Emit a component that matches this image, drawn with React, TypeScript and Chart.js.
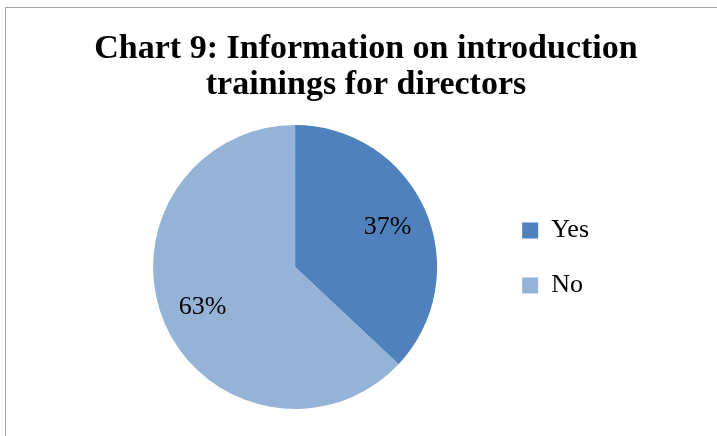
import React, { useEffect, useRef } from "react";
import { Chart, registerables } from "chart.js";

Chart.register(...registerables);

const titleLines = ["Chart 9: Information on introduction", "trainings for directors"];
const categories = ["Yes", "No"];
const values = [37, 63];
const colors = ["#4F81BD", "#95B3D7"];

const titlePlugin = {
  id: "centeredTitle",
  afterDraw(chart: any) {
    const ctx = chart.ctx;
    ctx.save();
    ctx.font = "bold 34px 'Liberation Serif'";
    ctx.fillStyle = "#000";
    ctx.textAlign = "center";
    ctx.textBaseline = "alphabetic";
    titleLines.forEach((line, i) => {
      ctx.fillText(line, chart.width / 2, 50 + i * 36);
    });
    ctx.restore();
  },
};

const legendShift = {
  id: "legendShift",
  afterLayout(chart: any) {
    const lg = chart.legend;
    if (lg) {
      lg.top -= 9;
      lg.bottom -= 9;
    }
  },
};

const pieLabels = {
  id: "pieLabels",
  afterDatasetsDraw(chart: any) {
    const ctx = chart.ctx;
    const meta = chart.getDatasetMeta(0);
    const data = chart.data.datasets[0].data as number[];
    const total = data.reduce((a, b) => a + b, 0);
    ctx.save();
    ctx.font = "26px 'Liberation Serif'";
    ctx.fillStyle = "#000";
    ctx.textAlign = "center";
    ctx.textBaseline = "middle";
    meta.data.forEach((arc: any, i: number) => {
      const p = arc.getProps(["x", "y", "startAngle", "endAngle", "outerRadius"], true);
      const mid = (p.startAngle + p.endAngle) / 2;
      const r = p.outerRadius * 0.71;
      const x = p.x + Math.cos(mid) * r;
      const y = p.y + Math.sin(mid) * r;
      ctx.fillText(Math.round((data[i] / total) * 100) + "%", x, y);
    });
    ctx.restore();
  },
};

export default function App() {
  const ref = useRef<HTMLCanvasElement>(null);
  useEffect(() => {
    if (!ref.current) return;
    const chart = new Chart(ref.current, {
      type: "pie",
      data: {
        labels: categories,
        datasets: [{ data: values, backgroundColor: colors, borderWidth: 0 }],
      },
      options: {
        responsive: false,
        animation: false,
        layout: { padding: { left: 91, right: 127, top: 117, bottom: 27 } },
        plugins: {
          tooltip: { enabled: false },
          title: { display: false },
          legend: {
            position: "right",
            align: "center",
            labels: {
              boxWidth: 16,
              boxHeight: 16,
              padding: 29,
              color: "#000",
              font: { family: "'Liberation Serif'", size: 26 },
            },
          },
        },
      },
      plugins: [pieLabels, titlePlugin, legendShift],
    });
    return () => chart.destroy();
  }, []);
  return (
    <div style={{ position: "fixed", left: 0, top: 0, width: 717, height: 436, overflow: "hidden", background: "#fff" }}>
      <div style={{ position: "absolute", left: 5, top: 7, width: 760, height: 480, border: "1px solid #a6a6a6" }} />
      <canvas ref={ref} width={720} height={428} style={{ position: "absolute", left: 6, top: 8, display: "block" }} />
    </div>
  );
}
